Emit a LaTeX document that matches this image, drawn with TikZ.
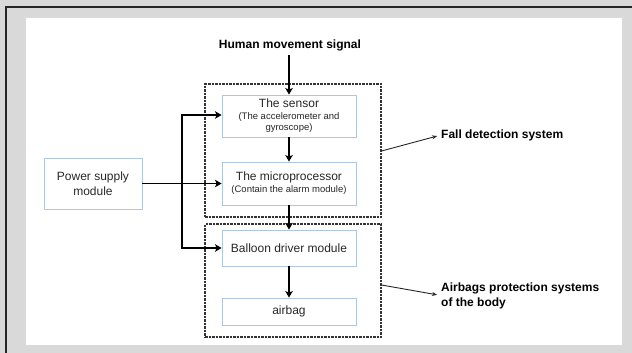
\documentclass[tikz,border=0pt]{standalone}
\usepackage{fontspec}
\setmainfont{Liberation Sans}
\usetikzlibrary{arrows.meta,calc}
\definecolor{bggray}{RGB}{217,217,217}
\definecolor{boxblue}{RGB}{175,198,222}
\definecolor{txtgray}{RGB}{40,40,40}
\newcommand{\smallfnt}{\fontsize{9.5}{11}\selectfont}
\tikzset{
  blk/.style={draw=boxblue,line width=0.9pt,fill=white,minimum width=134pt,align=center,inner sep=0pt,text=txtgray,font=\fontsize{12}{14}\selectfont},
  grp/.style={draw=black!80,line width=1.1pt,dash pattern=on 2.5pt off 1pt},
  arr/.style={draw=black,line width=1.7pt,-{Stealth[length=6.5pt,width=7.5pt,inset=1.5pt]}},
  larr/.style={draw=black!85,line width=0.9pt,shorten >=4pt,-{Stealth[length=5pt,width=4pt]}},
  lbl/.style={font=\bfseries\fontsize{12}{15}\selectfont,align=left,inner sep=0pt,text=black}
}
\begin{document}
\begin{tikzpicture}[x=1pt,y=-1pt]
\useasboundingbox (0,0) rectangle (632,353);
\fill[bggray] (0,0) rectangle (632,353);
\fill[white] (26,18) rectangle (622,345);
\draw[black!85,line width=2pt] (6,353) -- (6,7) -- (632,7);
% group boxes
\node[grp,minimum width=176pt,minimum height=133pt,inner sep=0pt] (g1) at (293,150.5) {};
\node[grp,minimum width=176pt,minimum height=113pt,inner sep=0pt] (g2) at (293,280.5) {};
% blocks
\node[blk,minimum height=42pt] (sensor) at (289,116) {The sensor\\[-2pt]\smallfnt (The accelerometer and\\[-3pt]\smallfnt gyroscope)};
\node[blk,minimum height=43pt] (micro) at (289,183.5) {The microprocessor\\[-2pt]\smallfnt (Contain the alarm module)};
\node[blk,minimum height=36pt] (balloon) at (289,248) {Balloon driver module};
\node[blk,minimum height=27pt] (airbag) at (289,311.5) {airbag};
\node[blk,minimum width=98pt,minimum height=51pt,font=\fontsize{12}{15}\selectfont] (power) at (93,183.5) {Power supply\\module};
% labels
\node[lbl] (title) at (290,45) {Human movement signal};
\node[lbl,anchor=west] (fd) at (441,135) {Fall detection system};
\node[lbl,anchor=west] (ap) at (441,295.5) {Airbags protection systems\\of the body};
% arrows
\coordinate (vx) at (182,0);
\draw[arr] ($(sensor.north |- title.south)+(0,4)$) -- (sensor.north);
\draw[arr] (sensor.south) -- (micro.north);
\draw[arr] (micro.south) -- (balloon.north);
\draw[arr] (balloon.south) -- (airbag.north);
\draw[arr] (power.east) -- (micro.west);
\draw[arr] (power.east -| vx) |- ($(sensor.west)+(0,-1)$);
\draw[arr] (power.east -| vx) |- (balloon.west);
\draw[larr] (g1.east |- 0,151) -- (fd.west);
\draw[larr] (g2.east |- 0,285) -- (ap.west);
\end{tikzpicture}
\end{document}
